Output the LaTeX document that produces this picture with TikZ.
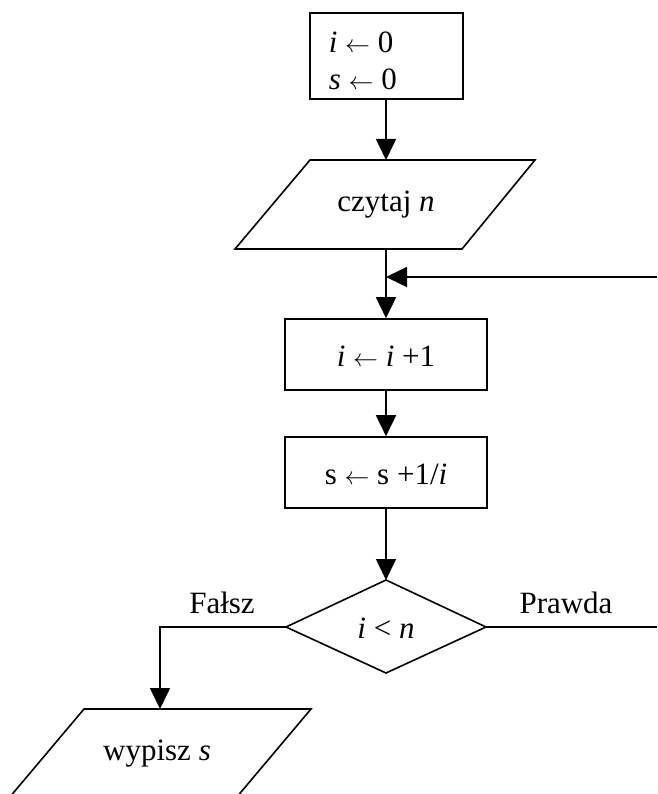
\documentclass[tikz,border=0pt]{standalone}
\usepackage{fontspec}
\setmainfont{Liberation Serif}
\usetikzlibrary{arrows.meta}
\newcommand{\lar}{$\leftarrow$}
\begin{document}
\begin{tikzpicture}[x=1pt,y=-1pt,
  line width=1.6pt,
  font=\fontsize{31}{37}\selectfont,
  flow/.style={-{Triangle[width=20pt,length=21pt]}},
  procbox/.style={draw,rectangle,minimum width=202pt,minimum height=71pt,inner sep=0pt},
  txt/.style={inner sep=0pt,anchor=base}
]
\clip (0,0) rectangle (657,794);
\useasboundingbox (0,0) rectangle (657,794);
% start box
\node[draw,rectangle,minimum width=153pt,minimum height=86pt,inner sep=0pt] (init) at (386.5,56) {};
\node[txt,anchor=base west] (l1) at (328,53) {\textit{i} \lar{} 0};
\node[txt,anchor=base west] (l2) at (328,90) {\textit{s} \lar{} 0};
% input parallelogram
\coordinate (inTop) at (386,160);
\coordinate (inBot) at (386,249);
\draw (310,160) -- (535,160) -- (462,249) -- (235,249) -- cycle;
\node[txt] (read) at (386,212) {czytaj \textit{n}};
\draw[flow] (init.south -| inTop) -- (inTop);
% loop junction
\coordinate (loopR) at (657,277);
\coordinate (loopJ) at (386,277);
% i <- i+1
\node[procbox] (inc) at (386,354.5) {};
\node[txt] (incT) at (386,366) {\textit{i} \lar{} \textit{i} +1};
\draw[flow] (inBot) -- (inc.north);
\draw[flow] (loopR) -- (loopJ);
% s <- s + 1/i
\node[procbox] (sum) at (386,472.5) {};
\node[txt] (sumT) at (386,484) {s \lar{} s +1/\textit{i}};
\draw[flow] (inc.south) -- (sum.north);
% decision
\coordinate (dT) at (386,580);
\coordinate (dR) at (486,627);
\coordinate (dB) at (386,673);
\coordinate (dL) at (286,627);
\draw (dT) -- (dR) -- (dB) -- (dL) -- cycle;
\node[txt] (cond) at (386,638) {\textit{i} < \textit{n}};
\draw[flow] (sum.south) -- (dT);
% true branch
\coordinate (trueEnd) at (657,627);
\draw (dR) -- (trueEnd);
\node[txt] (prawda) at (566,613) {Prawda};
% false branch
\coordinate (fCorner) at (160,627);
\coordinate (outTop) at (160,709);
\draw[flow] (dL) -- (fCorner) -- (outTop);
\node[txt] (falsz) at (222,613) {Fałsz};
% output parallelogram
\draw (84,709) -- (311,709) -- (236,798) -- (9,798) -- cycle;
\node[txt] (write) at (157,760) {wypisz \textit{s}};
\end{tikzpicture}
\end{document}
